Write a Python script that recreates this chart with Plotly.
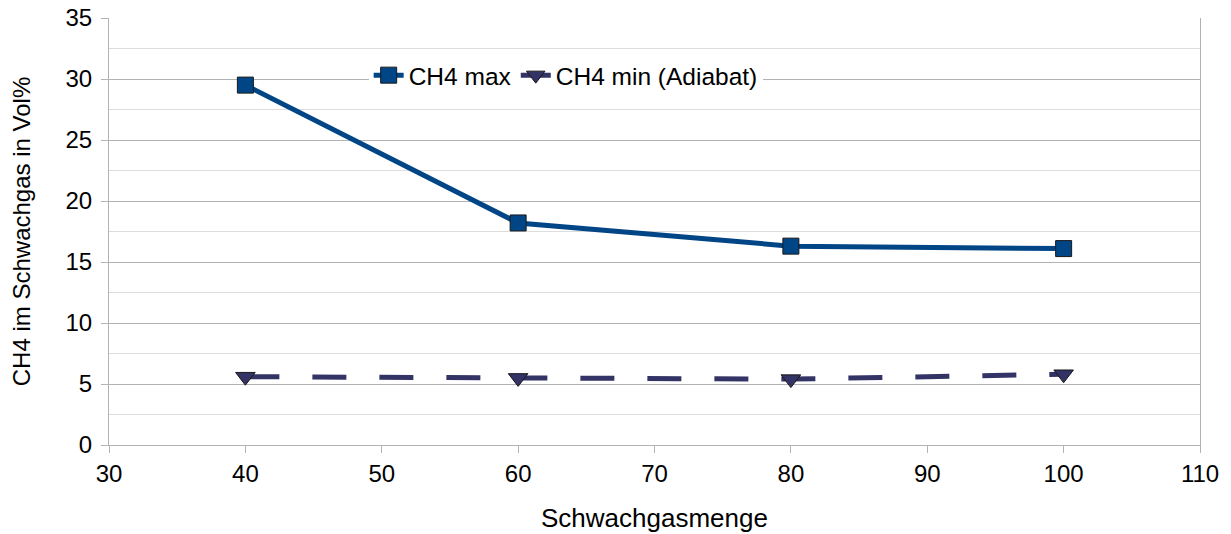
import plotly.graph_objects as go

# Schwachgasmenge (x) and CH4 concentration in Vol%
schwachgasmenge = [40, 60, 80, 100]
ch4_max = [29.5, 18.2, 16.3, 16.1]
ch4_min = [5.6, 5.5, 5.4, 5.8]

FONT = "Liberation Sans, Arial, sans-serif"
GRID = "#b3b3b3"

fig = go.Figure()
fig.add_trace(go.Scatter(
    x=schwachgasmenge, y=ch4_max, name="CH4 max",
    mode="lines+markers",
    line=dict(color="#004586", width=5),
    marker=dict(symbol="square", size=16, color="#004586",
                line=dict(color="#1a1a1a", width=1)),
))
fig.add_trace(go.Scatter(
    x=schwachgasmenge, y=ch4_min, name="CH4 min (Adiabat)",
    mode="lines+markers",
    line=dict(color="#333366", width=5, dash="34px,33px"),
    marker=dict(symbol="triangle-down", size=17, color="#333366",
                line=dict(color="#1a1a1a", width=1)),
))

fig.update_layout(
    width=1231, height=534,
    margin=dict(l=109, r=31, t=18, b=89),
    paper_bgcolor="white", plot_bgcolor="white",
    font=dict(family=FONT, size=24, color="#000000"),
    showlegend=True,
    legend=dict(
        orientation="h", x=0.238, y=0.866, xanchor="left", yanchor="middle",
        bgcolor="rgba(255,255,255,1)", font=dict(size=24.5),
        itemwidth=30, tracegroupgap=0,
    ),
    xaxis=dict(
        range=[30, 110], tick0=30, dtick=10, automargin=False,
        showgrid=False, zeroline=False,
        showline=True, linecolor=GRID, linewidth=1,
        ticks="outside", ticklen=7, tickcolor=GRID,
        title=dict(text="Schwachgasmenge", font=dict(size=26), standoff=23),
    ),
    yaxis=dict(
        range=[0, 35], tick0=0, dtick=5, automargin=False,
        showgrid=True, gridcolor=GRID, gridwidth=1, zeroline=False,
        showline=True, linecolor=GRID, linewidth=1, mirror=True,
        ticks="outside", ticklen=7, tickcolor=GRID, ticklabelstandoff=4,
        minor=dict(dtick=2.5, showgrid=True, gridcolor="#dddddd", gridwidth=1),
        title=dict(text="CH4 im Schwachgas in Vol%", font=dict(size=24), standoff=28),
    ),
)

fig.write_html("out.html")
